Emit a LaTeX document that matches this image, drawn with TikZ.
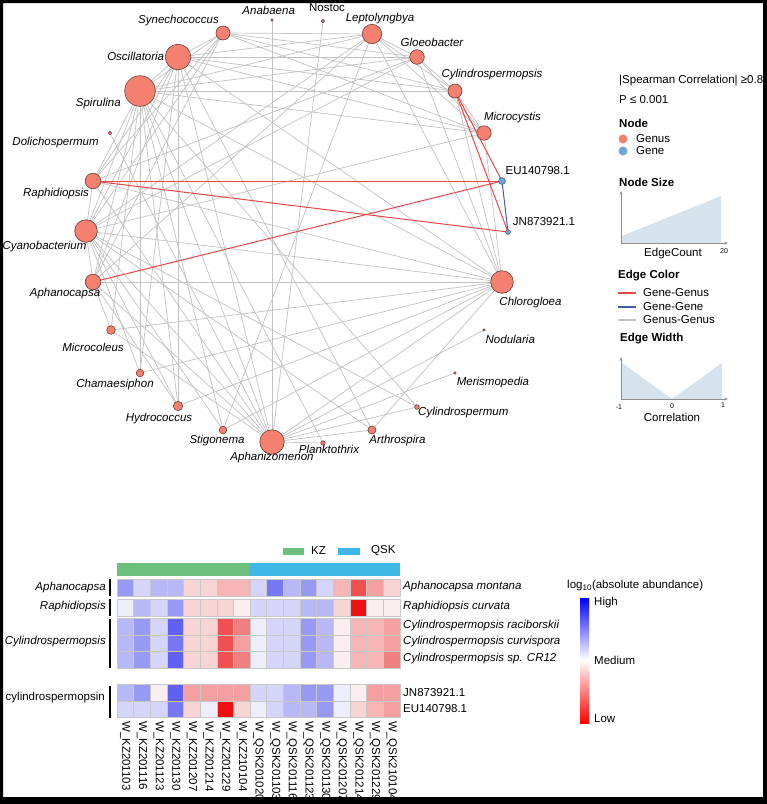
\documentclass[tikz,border=0pt]{standalone}
\usepackage{fontspec}
\setmainfont{Liberation Sans}
\usetikzlibrary{backgrounds,arrows.meta}
\definecolor{genus}{HTML}{F58070}
\definecolor{genusd}{HTML}{6B3F38}
\definecolor{gene}{HTML}{6FA8D8}
\definecolor{gened}{HTML}{3F5F80}
\definecolor{gedge}{HTML}{C2C2C2}
\definecolor{redge}{HTML}{E8474A}
\definecolor{bedge}{HTML}{3F5FA8}
\definecolor{lfill}{HTML}{D6E3EC}
\definecolor{laxis}{HTML}{8E8E8E}
\definecolor{kzc}{HTML}{6DBF7E}
\definecolor{qskc}{HTML}{3FB8E8}
\definecolor{cellgrid}{HTML}{C8C8C8}
\definecolor{b0}{HTML}{EEEEFA}
\definecolor{b1}{HTML}{D5D5FA}
\definecolor{b2}{HTML}{B8B8F6}
\definecolor{b3}{HTML}{A8A8F5}
\definecolor{b4}{HTML}{9898F5}
\definecolor{b5}{HTML}{7878F5}
\definecolor{b6}{HTML}{6060F5}
\definecolor{r0}{HTML}{FBEEEE}
\definecolor{r1}{HTML}{F8D5D5}
\definecolor{r2}{HTML}{F5B5B5}
\definecolor{r3}{HTML}{F5A0A0}
\definecolor{r4}{HTML}{F08080}
\definecolor{r5}{HTML}{F05050}
\definecolor{r6}{HTML}{EE1010}
\begin{document}
\begin{tikzpicture}[x=1pt,y=-1pt,
  lab/.style={font=\fontsize{11.5}{13}\selectfont\itshape, inner sep=0pt},
  ulab/.style={font=\fontsize{11.5}{13}\selectfont, inner sep=0pt},
  btitle/.style={font=\fontsize{11.5}{13}\selectfont\bfseries, inner sep=0pt, anchor=west},
  tick/.style={font=\fontsize{7}{8}\selectfont, inner sep=0pt},
  gnode/.style={circle, fill=genus, draw=genusd, line width=0.6pt, inner sep=0pt, minimum size=#1},
  genenode/.style={circle, fill=gene, draw=gened, line width=0.6pt, inner sep=0pt, minimum size=#1},
  gg/.style={draw=gedge, line width=0.7pt},
  rg/.style={draw=redge, line width=1pt},
  bg/.style={draw=bedge, line width=1pt},
  laxisline/.style={draw=laxis, line width=1pt, -{Stealth[length=4pt,width=3pt]}},
  cell/.style={draw=cellgrid, line width=0.8pt},
  rowbar/.style={line width=2pt, draw=black}
]
\useasboundingbox (0,0) rectangle (767,804);
\begin{scope}[on background layer]
  \fill[white] (0,0) rectangle (767,804);
\end{scope}
\fill[black, even odd rule] (0,0) rectangle (767,804) (3,3) rectangle (763,797);

% ---------------- network nodes ----------------
\node[gnode=14pt] (Syn) at (223,33) {};
\node[gnode=25.6pt] (Osc) at (178,57) {};
\node[gnode=30.6pt] (Spi) at (140,91) {};
\node[gnode=3.6pt] (Dol) at (110,133) {};
\node[gnode=15.6pt] (Rap) at (93,181) {};
\node[gnode=22.6pt] (Cya) at (86,231) {};
\node[gnode=15.6pt] (Aph) at (93,282) {};
\node[gnode=8.6pt] (Mcl) at (111,330) {};
\node[gnode=7.6pt] (Cha) at (140,373) {};
\node[gnode=9.4pt] (Hyd) at (178,406) {};
\node[gnode=7.6pt] (Sti) at (223,430) {};
\node[gnode=24.4pt] (Apz) at (272,442) {};
\node[gnode=4.4pt] (Pla) at (323,443) {};
\node[gnode=8pt] (Art) at (372,430) {};
\node[gnode=4.6pt] (Cym) at (417,407) {};
\node[gnode=2.6pt] (Mer) at (455,373) {};
\node[gnode=2.6pt] (Nod) at (484,330) {};
\node[gnode=22.6pt] (Chl) at (502,282) {};
\node[genenode=4.8pt] (JN) at (508,232) {};
\node[genenode=6.8pt] (EU) at (502,181) {};
\node[gnode=14.4pt] (Mcy) at (484,133) {};
\node[gnode=14pt] (Csp) at (455,91) {};
\node[gnode=14.6pt] (Glo) at (417,57) {};
\node[gnode=19.4pt] (Lep) at (372,34) {};
\node[gnode=3.6pt] (Nos) at (323,21) {};
\node[gnode=2.6pt] (Ana) at (272,20) {};

% ---------------- network edges ----------------
\begin{scope}[on background layer]
\foreach \a/\b in {Ana/Apz, Nos/Apz, Dol/Apz, Mer/Apz, Nod/Apz, Pla/Apz, Pla/Spi,
  Cym/Apz, Cym/Spi, Cym/Cya, Art/Apz, Art/Osc, Art/Chl, Art/Cya,
  Sti/Lep, Sti/Chl, Sti/Spi, Sti/Cya, Hyd/Osc, Hyd/Chl, Hyd/Aph, Hyd/Cya, Hyd/Spi,
  Cha/Spi, Cha/Chl, Cha/Cya, Cha/Osc, Mcl/Aph, Mcl/Chl, Mcl/Apz, Mcl/Spi,
  Aph/Chl, Aph/Cya, Aph/Spi, Aph/Osc, Aph/Apz, Aph/Syn, Aph/Lep,
  Cya/Spi, Cya/Osc, Cya/Chl, Cya/Apz, Cya/Syn, Cya/Glo, Cya/Mcy, Cya/Lep, Cya/Rap,
  Rap/Spi, Rap/Osc, Rap/Chl, Rap/Apz, Rap/Glo, Rap/Syn,
  Spi/Csp, Spi/Osc, Spi/Syn, Spi/Lep, Spi/Glo, Spi/Mcy, Spi/Chl, Spi/Apz,
  Osc/Glo, Osc/Syn, Osc/Lep, Osc/Csp, Osc/Mcy, Osc/Chl, Osc/Apz,
  Syn/Lep, Syn/Glo, Syn/Mcy, Syn/Csp, Lep/Glo, Lep/Chl, Lep/Mcy, Lep/Csp,
  Glo/Mcy, Glo/Chl, Glo/Csp, Csp/Chl, Csp/Mcy, Mcy/Chl, Chl/Apz}
  \draw[gg] (\a.center) -- (\b.center);
\foreach \a/\b in {Rap/EU, Rap/JN, Aph/EU, Csp/EU, Csp/JN}
  \draw[rg] (\a.center) -- (\b.center);
\draw[bg] (EU.center) -- (JN.center);
\end{scope}

% ---------------- network labels ----------------
\node[lab] (lSyn) at (178.5,20.7) {Synechococcus};
\node[lab] (lAna) at (268.7,10.7) {Anabaena};
\node[lab] (lOsc) at (135.7,56) {Oscillatoria};
\node[lab] (lSpi) at (98.3,104) {Spirulina};
\node[lab] (lDol) at (55.6,142.7) {Dolichospermum};
\node[lab] (lRap) at (56,194) {Raphidiopsis};
\node[lab] (lCya) at (44.5,247) {Cyanobacterium};
\node[lab] (lAph) at (65,294) {Aphanocapsa};
\node[lab] (lMcl) at (93,347) {Microcoleus};
\node[lab] (lCha) at (115,385) {Chamaesiphon};
\node[lab] (lHyd) at (159,419) {Hydrococcus};
\node[lab] (lSti) at (217,441) {Stigonema};
\node[lab] (lApz) at (272,458) {Aphanizomenon};
\node[lab] (lPla) at (329,449) {Planktothrix};
\node[lab] (lArt) at (397.5,440.7) {Arthrospira};
\node[lab] (lCym) at (463.3,413) {Cylindrospermum};
\node[lab] (lMer) at (493,382.7) {Merismopedia};
\node[lab] (lNod) at (510.3,339) {Nodularia};
\node[lab] (lChl) at (530.5,302.7) {Chlorogloea};
\node[ulab] (lJN) at (544,221.7) {JN873921.1};
\node[ulab] (lEU) at (537.7,170.7) {EU140798.1};
\node[lab] (lMcy) at (512.5,117.3) {Microcystis};
\node[lab] (lCsp) at (492,75) {Cylindrospermopsis};
\node[lab] (lGlo) at (432,42.3) {Gloeobacter};
\node[lab] (lLep) at (380,19) {Leptolyngbya};
\node[ulab] (lNos) at (327,7.5) {Nostoc};

% ---------------- network legend ----------------
\node[ulab, anchor=west] (spear) at (619,81) {|Spearman Correlation| ≥0.8};
\node[ulab, anchor=west] (pval) at (619,100) {P ≤ 0.001};
\node[btitle] (tNode) at (619,123) {Node};
\node[circle, fill=genus, inner sep=0pt, minimum size=9pt] (dGenus) at (623,139) {};
\node[ulab, anchor=west] (tGenus) at (636,139) {Genus};
\node[circle, fill=gene, inner sep=0pt, minimum size=9pt] (dGene) at (623,151) {};
\node[ulab, anchor=west] (tGene) at (636,151) {Gene};
\node[btitle] (tNodeSize) at (619,182) {Node Size};
\fill[lfill] (622,243) -- (622,236) -- (721,196) -- (721,243) -- cycle;
\coordinate (ns0) at (621,243);
\coordinate (nsy) at (621,191);
\coordinate (nsx) at (728,243);
\draw[laxisline] (ns0) -- (nsy);
\draw[laxisline] (ns0) -- (nsx);
\node[ulab] (tEdgeCount) at (673,254) {EdgeCount};
\node[tick] (t20) at (724,251) {20};

\node[btitle] (tEdgeColor) at (618,276) {Edge Color};
\coordinate (ec1a) at (618,293); \coordinate (ec1b) at (636,293);
\coordinate (ec2a) at (618,307); \coordinate (ec2b) at (636,307);
\coordinate (ec3a) at (618,320); \coordinate (ec3b) at (636,320);
\draw[draw=redge, line width=1.6pt] (ec1a) -- (ec1b);
\draw[draw=bedge, line width=1.6pt] (ec2a) -- (ec2b);
\draw[draw=gedge, line width=1.6pt] (ec3a) -- (ec3b);
\node[ulab, anchor=west] (tGG1) at (643,293) {Gene-Genus};
\node[ulab, anchor=west] (tGG2) at (643,307) {Gene-Gene};
\node[ulab, anchor=west] (tGG3) at (643,320) {Genus-Genus};
\node[btitle] (tEdgeWidth) at (620,339) {Edge Width};
\fill[lfill] (622,363) -- (672,399) -- (722,363) -- (722,399) -- (622,399) -- cycle;
\coordinate (ew0) at (621,399);
\coordinate (ewy) at (621,357);
\coordinate (ewx) at (728,399);
\draw[laxisline] (ew0) -- (ewy);
\draw[laxisline] (ew0) -- (ewx);
\node[tick] (tm1) at (619,407) {-1};
\node[tick] (t0) at (672,406) {0};
\node[tick] (t1) at (723,405) {1};
\node[ulab] (tCorr) at (672,417) {Correlation};

% ---------------- heatmap ----------------
\fill[kzc] (283,548) rectangle (304,555);
\node[ulab, anchor=west] (tKZ) at (311,551) {KZ};
\fill[qskc] (338,548) rectangle (360,555);
\node[ulab, anchor=west] (tQSK) at (371,551) {QSK};
\fill[kzc] (117,562.5) rectangle (250.2,576);
\fill[qskc] (250.2,562.5) rectangle (400,576);

\def\cw{16.65}
\foreach \row/\ytop/\h in {
  {b4,b1,b2,b2,r1,r1,r2,r2,b1,b5,b2,b4,b1,r2,r5,r3,r1}/579/17,
  {b0,b2,b1,b4,r1,r1,r1,r0,b1,b1,b1,b2,b2,r1,r6,r0,r0}/599/17,
  {b2,b4,b1,b6,r1,r1,r5,r4,b0,b1,b1,b4,b2,r0,r2,r2,r3}/618.5/16.5,
  {b2,b4,b1,b5,r1,r1,r5,r3,b0,b1,b1,b4,b2,r0,r2,r2,r3}/635/16.5,
  {b2,b4,b1,b6,r1,r1,r5,r4,b0,b1,b1,b4,b2,r0,r2,r2,r4}/651.5/16.5,
  {b2,b4,r0,b6,r3,r3,r3,r3,b1,b1,b2,b4,b4,b0,r0,r3,r3}/684.5/16.5,
  {b1,b1,b1,b5,r1,b0,r6,r1,b0,b1,b2,b2,b4,b0,r1,r2,r3}/701/16.5}{
  \foreach \c [count=\i from 0] in \row {
    \path[cell, fill=\c] ({117+\i*\cw},\ytop) rectangle ++(\cw,\h);
  }
}

\coordinate (bA1) at (110,579); \coordinate (bA2) at (110,596);
\coordinate (bR1) at (110,599); \coordinate (bR2) at (110,616);
\coordinate (bC1) at (110,619); \coordinate (bC2) at (110,668);
\coordinate (bG1) at (110,686); \coordinate (bG2) at (110,718);
\draw[rowbar] (bA1) -- (bA2);
\draw[rowbar] (bR1) -- (bR2);
\draw[rowbar] (bC1) -- (bC2);
\draw[rowbar] (bG1) -- (bG2);

\node[lab, anchor=east] (hAph) at (106,588) {Aphanocapsa};
\node[lab, anchor=east] (hRap) at (106,607) {Raphidiopsis};
\node[lab, anchor=east] (hCyl) at (106,642) {Cylindrospermopsis};
\node[ulab, anchor=east] (hGene) at (105,698) {cylindrospermopsin};

\node[lab, anchor=west] (rA) at (403,587) {Aphanocapsa montana};
\node[lab, anchor=west] (rR) at (403,607) {Raphidiopsis curvata};
\node[lab, anchor=west] (rC1) at (403,626) {Cylindrospermopsis raciborskii};
\node[lab, anchor=west] (rC2) at (403,642) {Cylindrospermopsis curvispora};
\node[lab, anchor=west] (rC3) at (403,659) {Cylindrospermopsis sp. CR12};
\node[ulab, anchor=west] (rJN) at (403,693) {JN873921.1};
\node[ulab, anchor=west] (rEU) at (403,709) {EU140798.1};

\foreach \s [count=\i from 0] in {W\_KZ201103, W\_KZ201116, W\_KZ201123, W\_KZ201130,
  W\_KZ201207, W\_KZ201214, W\_KZ201229, W\_KZ210104, W\_QSK201020, W\_QSK201103,
  W\_QSK201116, W\_QSK201123, W\_QSK201130, W\_QSK201207, W\_QSK201214,
  W\_QSK201229, W\_QSK210104}
  \node[ulab, rotate=-90, anchor=west] (col\i) at ({117+(\i+0.5)*\cw},721) {\s};

% heatmap legend
\node[ulab, anchor=west] (tLog) at (567,586) {log\textsubscript{10}(absolute abundance)};
\shade[top color=blue, bottom color=white] (580,598) rectangle (589,660);
\shade[top color=white, bottom color=red] (580,660) rectangle (589,723);
\node[ulab, anchor=west] (tHigh) at (594,603) {High};
\node[ulab, anchor=west] (tMed) at (594,660) {Medium};
\node[ulab, anchor=west] (tLow) at (594,719) {Low};
\end{tikzpicture}
\end{document}
